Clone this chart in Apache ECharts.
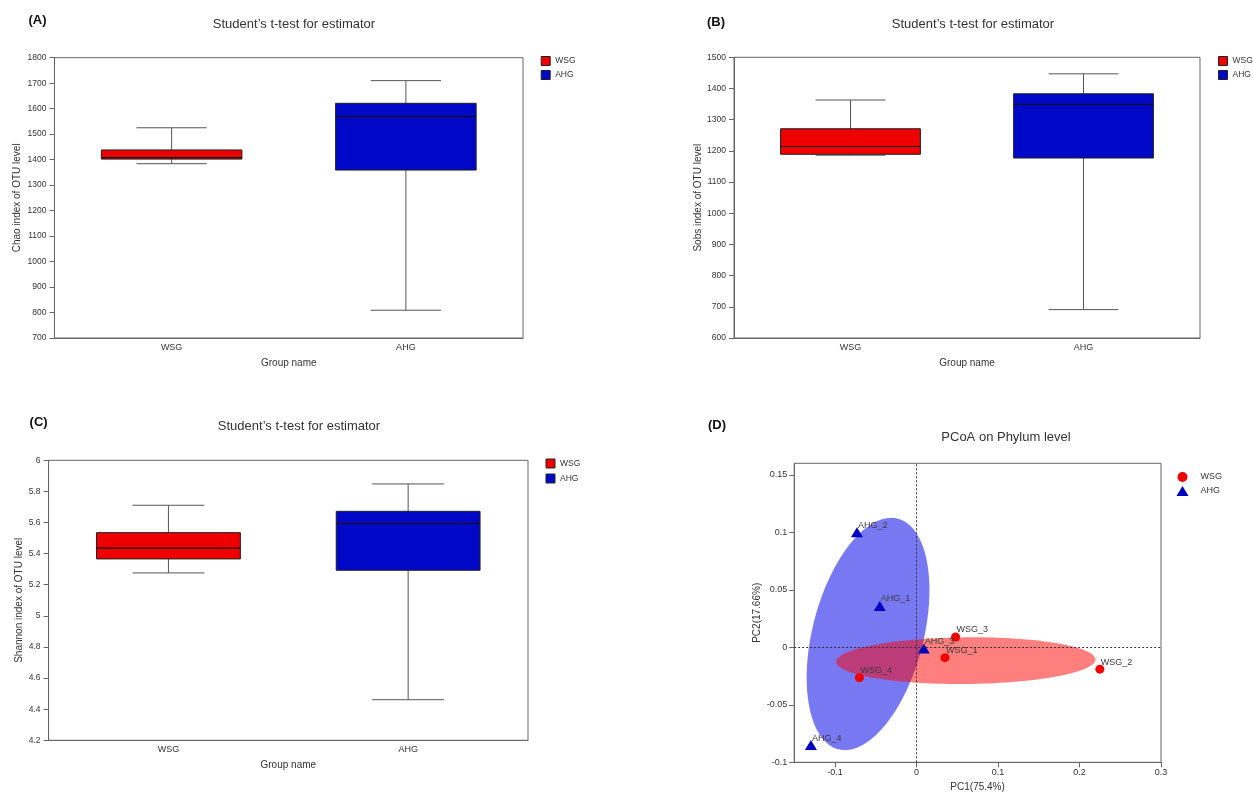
<!DOCTYPE html>
<html><head><meta charset="utf-8">
<script src="https://cdn.jsdelivr.net/npm/echarts@6/dist/echarts.min.js"></script>
<style>html,body{margin:0;padding:0;background:#fff}#c{width:1253px;height:795px}</style>
</head><body><div id="c"></div>
<script>
// ---- data ----
const groups = ['WSG', 'AHG'];
// box stats: [min, Q1, median, Q3, max]
const chaoWSG = [1384, 1402, 1408, 1438, 1525];
const chaoAHG = [809, 1359, 1570, 1621, 1710];
const sobsWSG = [1186, 1189, 1214, 1271, 1363];
const sobsAHG = [691, 1177, 1349, 1383, 1447];
const shannonWSG = [5.276, 5.366, 5.436, 5.535, 5.711];
const shannonAHG = [4.461, 5.293, 5.593, 5.672, 5.848];
// PCoA points [name, PC1, PC2]
const pcoaWSG = [['WSG_1', 0.035, -0.009], ['WSG_2', 0.225, -0.019], ['WSG_3', 0.048, 0.009], ['WSG_4', -0.070, -0.0265]];
const pcoaAHG = [['AHG_1', -0.045, 0.036], ['AHG_2', -0.073, 0.100], ['AHG_3', 0.009, -0.001], ['AHG_4', -0.1295, -0.085]];
// confidence ellipses [centerX, centerY, sdX, sdY, rho]
const ellipseWSG = [0.0605, -0.0116, 0.159, 0.0203, 0.05];
const ellipseAHG = [-0.0594, 0.0116, 0.0753, 0.1010, 0.377];
const pcXTicks = [-0.1, 0, 0.1, 0.2, 0.3];
const pcYTicks = [-0.1, -0.05, 0, 0.05, 0.1, 0.15];

// ---- style ----
const FONT = "'Liberation Sans', Arial, Helvetica, sans-serif";
const TXT = '#333';
const AX = '#666';
const RED = '#ee0000';
const BLUE = '#0008c8';
const PT_RED = '#f00000';
const PT_BLUE = '#0000c0';
const numFmt = v => String(+(+v).toFixed(3));

const grids = [
  {left: 54.5, top: 57.7, width: 468.5, height: 280.3},
  {left: 734, top: 57.3, width: 466, height: 280.7},
  {left: 48.6, top: 460.3, width: 479.4, height: 280},
  {left: 794.2, top: 463.3, width: 366.8, height: 299}
].map(g => Object.assign({show: true, borderColor: AX, borderWidth: 1, backgroundColor: 'transparent'}, g));

function boxX(i) {
  return {
    type: 'category', gridIndex: i, data: groups, boundaryGap: true,
    axisLine: {lineStyle: {color: AX}},
    axisTick: {alignWithLabel: true, length: 4, lineStyle: {color: AX}},
    axisLabel: {fontSize: 9, color: TXT, margin: 5, fontFamily: FONT},
    splitLine: {show: false},
    name: 'Group name', nameLocation: 'middle', nameGap: 20,
    nameTextStyle: {fontSize: 10, color: TXT, fontFamily: FONT}
  };
}
function boxY(i, name, min, max, interval, gap) {
  return {
    type: 'value', gridIndex: i, min: min, max: max, interval: interval,
    axisLine: {show: true, lineStyle: {color: AX}},
    axisTick: {show: true, length: 5, lineStyle: {color: AX}},
    axisLabel: {fontSize: 8.5, color: TXT, margin: 8, fontFamily: FONT, formatter: numFmt},
    splitLine: {show: false},
    name: name, nameLocation: 'middle', nameGap: gap, nameRotate: 90,
    nameTextStyle: {fontSize: 10, color: TXT, fontFamily: FONT}
  };
}
function renderBox(fill) {
  return function (params, api) {
    const c = api.value(0);
    const p = [1, 2, 3, 4, 5].map(k => api.coord([c, api.value(k)]));
    const xc = p[0][0];
    const band = api.size([1, 0])[0];
    const half = band * 0.3, cap = band * 0.15;
    const wl = {stroke: '#555', lineWidth: 1};
    return {
      type: 'group',
      children: [
        {type: 'line', shape: {x1: xc, y1: p[4][1], x2: xc, y2: p[3][1]}, style: wl},
        {type: 'line', shape: {x1: xc, y1: p[1][1], x2: xc, y2: p[0][1]}, style: wl},
        {type: 'line', shape: {x1: xc - cap, y1: p[4][1], x2: xc + cap, y2: p[4][1]}, style: wl},
        {type: 'line', shape: {x1: xc - cap, y1: p[0][1], x2: xc + cap, y2: p[0][1]}, style: wl},
        {type: 'rect', shape: {x: xc - half, y: p[3][1], width: 2 * half, height: p[1][1] - p[3][1]},
         style: {fill: fill, stroke: '#222', lineWidth: 1}},
        {type: 'line', shape: {x1: xc - half, y1: p[2][1], x2: xc + half, y2: p[2][1]},
         style: {stroke: '#111', lineWidth: 1.2}}
      ]
    };
  };
}
function boxSeries(i, name, catIndex, stats, fill) {
  return {
    type: 'custom', name: name, xAxisIndex: i, yAxisIndex: i, silent: true, animation: false,
    encode: {x: 0, y: [1, 5]},
    itemStyle: {color: fill},
    data: [[catIndex].concat(stats)],
    renderItem: renderBox(fill)
  };
}
function boxLegend(left, top, gap) {
  return {
    left: left, top: top, orient: 'vertical', padding: 0, itemGap: gap,
    itemWidth: 9, itemHeight: 9, selectedMode: false,
    textStyle: {fontSize: 8.5, color: TXT, fontFamily: FONT},
    data: [
      {name: 'WSG', icon: 'rect', itemStyle: {color: RED, borderColor: '#222', borderWidth: 1, opacity: 1}},
      {name: 'AHG', icon: 'rect', itemStyle: {color: BLUE, borderColor: '#222', borderWidth: 1, opacity: 1}}
    ]
  };
}
function ellipseSeries(name, params, fill) {
  return {
    type: 'custom', name: name, xAxisIndex: 3, yAxisIndex: 3, silent: true, animation: false, z: 1,
    encode: {x: 0, y: 1},
    data: [params],
    renderItem: function (p, api) {
      const cx = api.value(0), cy = api.value(1), sx = api.value(2), sy = api.value(3), r = api.value(4);
      const pts = [];
      const n = 144;
      for (let k = 0; k < n; k++) {
        const t = 2 * Math.PI * k / n;
        const dx = sx * Math.cos(t);
        const dy = sy * (r * Math.cos(t) + Math.sqrt(1 - r * r) * Math.sin(t));
        pts.push(api.coord([cx + dx, cy + dy]));
      }
      return {type: 'polygon', shape: {points: pts}, style: {fill: fill}};
    }
  };
}
function titles(label, lx, ly, text, tx, ty) {
  return [
    {text: label, left: lx, top: ly, textAlign: 'left', textVerticalAlign: 'middle', padding: 0,
     textStyle: {fontSize: 13, fontWeight: 'bold', color: '#111', fontFamily: FONT}},
    {text: text, left: tx, top: ty, textAlign: 'center', textVerticalAlign: 'middle', padding: 0,
     textStyle: {fontSize: 13, fontWeight: 'normal', color: TXT, fontFamily: FONT}}
  ];
}
const ptLabel = {show: true, formatter: '{b}', position: 'inside', align: 'left', verticalAlign: 'middle',
  offset: [1, -7], fontSize: 9, color: '#3a3a3a', fontFamily: FONT};

const T = 'Student\u2019s t-test for estimator';
const option = {
  animation: false,
  backgroundColor: '#fff',
  textStyle: {fontFamily: FONT},
  title: [].concat(
    titles('(A)', 28.5, 20, T, 294, 24.5),
    titles('(B)', 707, 22.5, T, 973, 24),
    titles('(C)', 29.6, 422.7, T, 299, 426),
    titles('(D)', 708, 425.7, 'PCoA on Phylum level', 1006, 437)
  ),
  legend: [
    boxLegend(540.7, 56, 4),
    boxLegend(1218, 56, 4),
    boxLegend(545.5, 458.5, 5),
    {
      left: 1176.5, top: 472, orient: 'vertical', padding: 0, itemGap: 4,
      itemWidth: 12, itemHeight: 10, selectedMode: false,
      textStyle: {fontSize: 9, color: TXT, fontFamily: FONT, padding: [0, 0, 0, 7]},
      data: [
        {name: 'WSG', icon: 'circle', itemStyle: {color: PT_RED, borderWidth: 0, opacity: 1}},
        {name: 'AHG', icon: 'triangle', itemStyle: {color: PT_BLUE, borderWidth: 0, opacity: 1}}
      ]
    }
  ],
  grid: grids,
  xAxis: [
    boxX(0), boxX(1), boxX(2),
    {
      type: 'value', gridIndex: 3, min: -0.15, max: 0.3,
      axisLine: {onZero: false, lineStyle: {color: AX}},
      axisTick: {show: true, length: 5, customValues: pcXTicks, lineStyle: {color: AX}},
      axisLabel: {fontSize: 9, color: TXT, margin: 6, customValues: pcXTicks, fontFamily: FONT, formatter: numFmt},
      splitLine: {show: false},
      name: 'PC1(75.4%)', nameLocation: 'middle', nameGap: 20,
      nameTextStyle: {fontSize: 10, color: TXT, fontFamily: FONT}
    }
  ],
  yAxis: [
    boxY(0, 'Chao index of OTU level', 700, 1800, 100, 32),
    boxY(1, 'Sobs index of OTU level', 600, 1500, 100, 31),
    boxY(2, 'Shannon index of OTU level', 4.2, 6, 0.2, 24),
    {
      type: 'value', gridIndex: 3, min: -0.1, max: 0.16,
      axisLine: {show: true, onZero: false, lineStyle: {color: AX}},
      axisTick: {show: true, length: 5, customValues: pcYTicks, lineStyle: {color: AX}},
      axisLabel: {fontSize: 9, color: TXT, margin: 7, customValues: pcYTicks, fontFamily: FONT, formatter: numFmt},
      splitLine: {show: false},
      name: 'PC2(17.66%)', nameLocation: 'middle', nameGap: 32, nameRotate: 90,
      nameTextStyle: {fontSize: 10, color: TXT, fontFamily: FONT}
    }
  ],
  series: [
    boxSeries(0, 'WSG', 0, chaoWSG, RED),
    boxSeries(0, 'AHG', 1, chaoAHG, BLUE),
    boxSeries(1, 'WSG', 0, sobsWSG, RED),
    boxSeries(1, 'AHG', 1, sobsAHG, BLUE),
    boxSeries(2, 'WSG', 0, shannonWSG, RED),
    boxSeries(2, 'AHG', 1, shannonAHG, BLUE),
    ellipseSeries('AHG ellipse', ellipseAHG, 'rgba(0,0,230,0.53)'),
    ellipseSeries('WSG ellipse', ellipseWSG, 'rgba(255,0,0,0.5)'),
    {
      type: 'scatter', name: 'WSG', xAxisIndex: 3, yAxisIndex: 3, z: 3, silent: true,
      symbol: 'circle', symbolSize: 9, itemStyle: {color: PT_RED, opacity: 1},
      label: ptLabel,
      data: pcoaWSG.map(d => ({name: d[0], value: [d[1], d[2]]}))
    },
    {
      type: 'scatter', name: 'AHG', xAxisIndex: 3, yAxisIndex: 3, z: 3, silent: true,
      symbol: 'triangle', symbolSize: [12, 10], itemStyle: {color: PT_BLUE, opacity: 1},
      label: ptLabel,
      data: pcoaAHG.map(d => ({name: d[0], value: [d[1], d[2]]})),
      markLine: {
        silent: true, symbol: 'none', animation: false,
        label: {show: false},
        lineStyle: {color: '#333', type: [2, 2], width: 1},
        data: [{xAxis: 0}, {yAxis: 0}]
      }
    }
  ]
};
const chart = echarts.init(document.getElementById('c'), null, {renderer: 'canvas'});
chart.setOption(option);
</script>
</body></html>
